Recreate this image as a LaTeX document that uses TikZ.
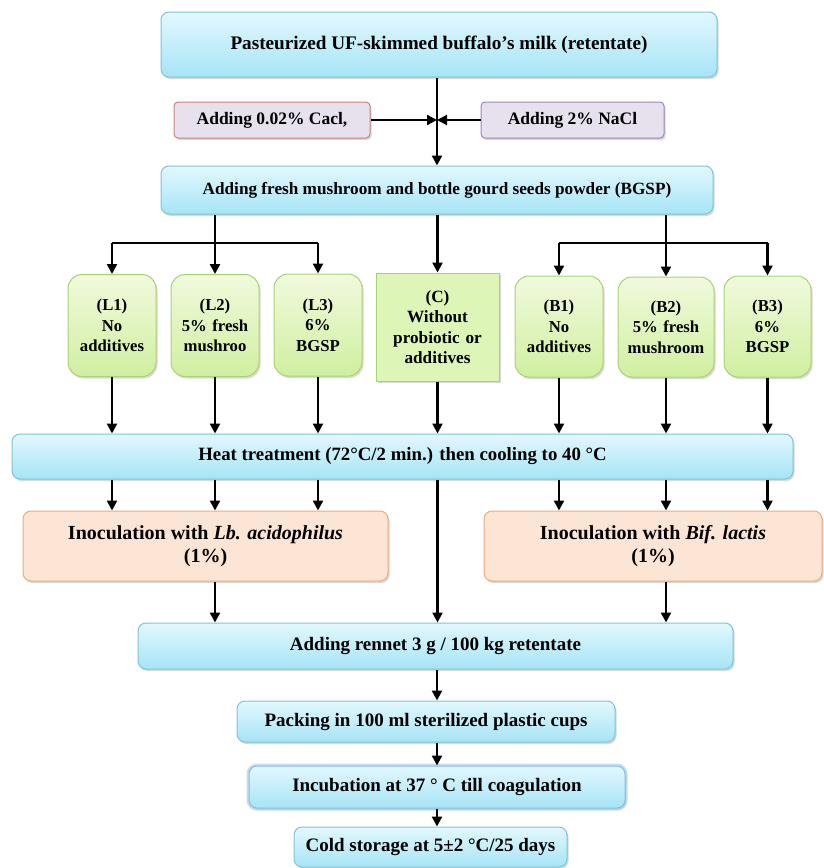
\documentclass[tikz,border=0pt]{standalone}
\usepackage{fontspec}
\setmainfont{Liberation Serif}
\usetikzlibrary{arrows.meta,shadows}
\definecolor{bluetop}{HTML}{E2F8FE}
\definecolor{bluebot}{HTML}{A6E4F6}
\definecolor{blueline}{HTML}{7EC4D8}
\definecolor{greentop}{HTML}{F1FADD}
\definecolor{greenbot}{HTML}{D0EFA0}
\definecolor{greenline}{HTML}{A7D472}
\definecolor{cfill}{HTML}{DDF5B6}
\definecolor{orfill}{HTML}{FCE5D4}
\definecolor{orline}{HTML}{F0AA78}
\definecolor{lavfill}{HTML}{E7E1EE}
\definecolor{redline}{HTML}{CD7F7D}
\definecolor{purline}{HTML}{9C84C2}
\definecolor{glow}{HTML}{B7C9F2}
\tikzset{
  sh/.style={drop shadow={shadow xshift=1.5pt,shadow yshift=-2pt,opacity=0.3}},
  bluebox/.style={sh,draw=blueline,line width=1pt,rounded corners=8pt,top color=bluetop,bottom color=bluebot,
    font=\bfseries\fontsize{19}{22}\selectfont,align=center,inner sep=0pt},
  greenbox/.style={sh,draw=greenline,line width=1pt,rounded corners=14pt,top color=greentop,bottom color=greenbot,
    font=\bfseries\fontsize{16.7}{20.5}\selectfont,align=center,inner sep=0pt,minimum height=102pt},
  cbox/.style={sh,draw=greenline,line width=1pt,fill=cfill,font=\bfseries\fontsize{17.2}{20.5}\selectfont,
    align=center,inner sep=0pt},
  orbox/.style={sh,draw=orline,line width=1pt,rounded corners=8pt,fill=orfill,
    font=\bfseries\fontsize{20}{23}\selectfont,align=center,inner sep=0pt,minimum height=70pt},
  addbox/.style={sh,line width=1pt,rounded corners=4pt,fill=lavfill,font=\bfseries\fontsize{17.5}{20}\selectfont,
    inner sep=0pt,minimum height=36pt},
  arr/.style={line width=2.3pt,-{Triangle[length=10pt,width=10pt]}},
  ln/.style={line width=2.3pt},
}
\begin{document}
\begin{tikzpicture}[x=1pt,y=-1pt]
\useasboundingbox (0,0) rectangle (824,868);
% top
\node[bluebox,minimum width=556pt,minimum height=65pt,font=\bfseries\fontsize{19.2}{22}\selectfont] (top) at (439,44.5) {Pasteurized UF-skimmed buffalo's milk (retentate)};
\node[addbox,draw=redline,minimum width=196pt] (cacl) at (272,120) {Adding 0.02\% Cacl,};
\node[addbox,draw=purline,minimum width=183pt] (nacl) at (572.5,120) {Adding 2\% NaCl};
\node[bluebox,minimum width=552pt,minimum height=48pt,font=\bfseries\fontsize{17.2}{20}\selectfont] (m) at (437,190) {Adding fresh mushroom and bottle gourd seeds powder (BGSP)};
\coordinate (v) at (437,120);
% groups
\node[greenbox,minimum width=88pt,text width=86pt] (L1) at (112,325.5) {(L1)\\No\\additives\\[14pt]};
\node[greenbox,minimum width=88pt,text width=86pt] (L2) at (215,325.5) {(L2)\\5\% fresh\\mushroo\\[14pt]};
\node[greenbox,minimum width=88pt,text width=86pt] (L3) at (318,325) {(L3)\\6\%\\BGSP\\[20pt]};
\node[cbox,minimum width=123pt,minimum height=108pt,text width=120pt] (C) at (437.5,327) {(C)\\Without\\probiotic or\\additives\\[6pt]};
\node[greenbox,minimum width=88pt,text width=86pt,minimum height=101pt] (B1) at (559,326.5) {(B1)\\No\\additives\\[16pt]};
\node[greenbox,minimum width=96pt,text width=94pt,minimum height=100pt] (B2) at (666,327) {(B2)\\5\% fresh\\mushroom\\[6pt]};
\node[greenbox,minimum width=87pt,text width=85pt,minimum height=101pt] (B3) at (767.5,326.5) {(B3)\\6\%\\BGSP\\[4pt]};
% heat
\node[bluebox,minimum width=781pt,minimum height=45pt,font=\bfseries\fontsize{18.8}{22}\selectfont] (heat) at (402.5,456.5) {Heat treatment (72°C/2 min.) then cooling to 40 °C};
\node[orbox,minimum width=365pt] (Lb) at (205.5,546) {Inoculation with \textit{Lb. acidophilus}\\(1\%)};
\node[orbox,minimum width=338pt] (Bif) at (653,546) {Inoculation with \textit{Bif. lactis}\\(1\%)};
\node[bluebox,minimum width=595pt,minimum height=46pt] (ren) at (435.5,646) {Adding rennet 3 g / 100 kg retentate};
\node[bluebox,minimum width=378pt,minimum height=41pt] (pack) at (426,721.5) {Packing in 100 ml sterilized plastic cups};
\node[bluebox,minimum width=376pt,minimum height=42pt,preaction={draw=glow,line width=5pt,opacity=0.7}] (inc) at (437,787) {Incubation at 37 ° C till coagulation};
\node[bluebox,minimum width=273pt,minimum height=40pt] (cold) at (430.5,847) {Cold storage at 5±2 °C/25 days};
% connectors top
\draw[arr] (top.south -| m.north) -- (m.north);
\draw[arr] (cacl.east) -- (cacl.east -| v);
\draw[arr] (nacl.west) -- (nacl.west -| v);
% branches
\coordinate (jl) at (215,243);
\coordinate (jr) at (665,243);
\draw[arr] (m.south -| L2.north) -- (L2.north);
\draw[ln] (jl -| L1.north) -- (jl -| L3.north);
\draw[arr] (jl -| L1.north) -- (L1.north);
\draw[arr] (jl -| L3.north) -- (L3.north);
\draw[arr] (m.south -| B2.north) -- (B2.north);
\draw[ln] (jr -| B1.north) -- (jr -| B3.north);
\draw[arr] (jr -| B1.north) -- (B1.north);
\draw[arr] (jr -| B3.north) -- (B3.north);
\draw[arr] (m.south -| C.north) -- (C.north);
% to heat
\foreach \n in {L1,L2,L3,C,B1,B2,B3}{
  \draw[arr] (\n.south) -- (\n.south |- heat.north);
}
\foreach \n in {L1,L2,L3}{
  \draw[arr] (heat.south -| \n.south) -- (Lb.north -| \n.south);
}
\foreach \n in {B1,B2,B3}{
  \draw[arr] (heat.south -| \n.south) -- (Bif.north -| \n.south);
}
\draw[arr] (heat.south -| C.south) -- (ren.north -| C.south);
\draw[arr] (Lb.south -| L2.south) -- (ren.north -| L2.south);
\draw[arr] (Bif.south -| B2.south) -- (ren.north -| B2.south);
\draw[arr] (ren.south -| inc.north) -- (pack.north -| inc.north);
\draw[arr] (pack.south -| inc.north) -- (inc.north);
\draw[arr] (inc.south) -- (cold.north -| inc.south);
\end{tikzpicture}
\end{document}
